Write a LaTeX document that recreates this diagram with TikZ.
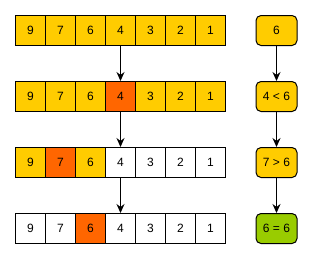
\documentclass[tikz,border=0pt]{standalone}
\usepackage{fontspec}
\setmainfont{Liberation Sans}
\usetikzlibrary{arrows.meta}
\definecolor{cy}{HTML}{FFCC00}
\definecolor{co}{HTML}{FF6600}
\definecolor{cg}{HTML}{99CC00}
\begin{document}
\begin{tikzpicture}[x=1pt,y=-1pt,
  cell/.style={draw, line width=1pt, minimum width=30pt, minimum height=30pt, inner sep=0pt, anchor=north west, font=\fontsize{12}{14}\selectfont},
  rbox/.style={draw, line width=1pt, rounded corners=5pt, minimum width=41pt, minimum height=30pt, inner sep=0pt, anchor=north west, font=\fontsize{12}{14}\selectfont},
  arr/.style={line width=1pt, -{Stealth[length=9pt, width=8pt, inset=3pt]}}]
\useasboundingbox (0,0) rectangle (312,258);
% row 1
\foreach \v [count=\i] in {9,7,6,4,3,2,1}
  \node[cell, fill=cy] (a\i) at ({15+30*(\i-1)},15) {\v};
% row 2
\foreach \v/\c [count=\i] in {9/cy,7/cy,6/cy,4/co,3/cy,2/cy,1/cy}
  \node[cell, fill=\c] (b\i) at ({15+30*(\i-1)},81) {\v};
% row 3
\foreach \v/\c [count=\i] in {9/cy,7/co,6/cy,4/white,3/white,2/white,1/white}
  \node[cell, fill=\c] (c\i) at ({15+30*(\i-1)},147) {\v};
% row 4
\foreach \v/\c [count=\i] in {9/white,7/white,6/co,4/white,3/white,2/white,1/white}
  \node[cell, fill=\c] (d\i) at ({15+30*(\i-1)},213) {\v};
% right boxes
\node[rbox, fill=cy] (p1) at (255.5,15) {6};
\node[rbox, fill=cy] (p2) at (255.5,81) {4 < 6};
\node[rbox, fill=cy] (p3) at (255.5,147) {7 > 6};
\node[rbox, fill=cg] (p4) at (255.5,213) {6 = 6};
% arrows
\draw[arr] (a4.south) -- (b4.north);
\draw[arr] (b4.south) -- (c4.north);
\draw[arr] (c4.south) -- (d4.north);
\draw[arr] (p1.south) -- (p2.north);
\draw[arr] (p2.south) -- (p3.north);
\draw[arr] (p3.south) -- (p4.north);
\end{tikzpicture}
\end{document}
